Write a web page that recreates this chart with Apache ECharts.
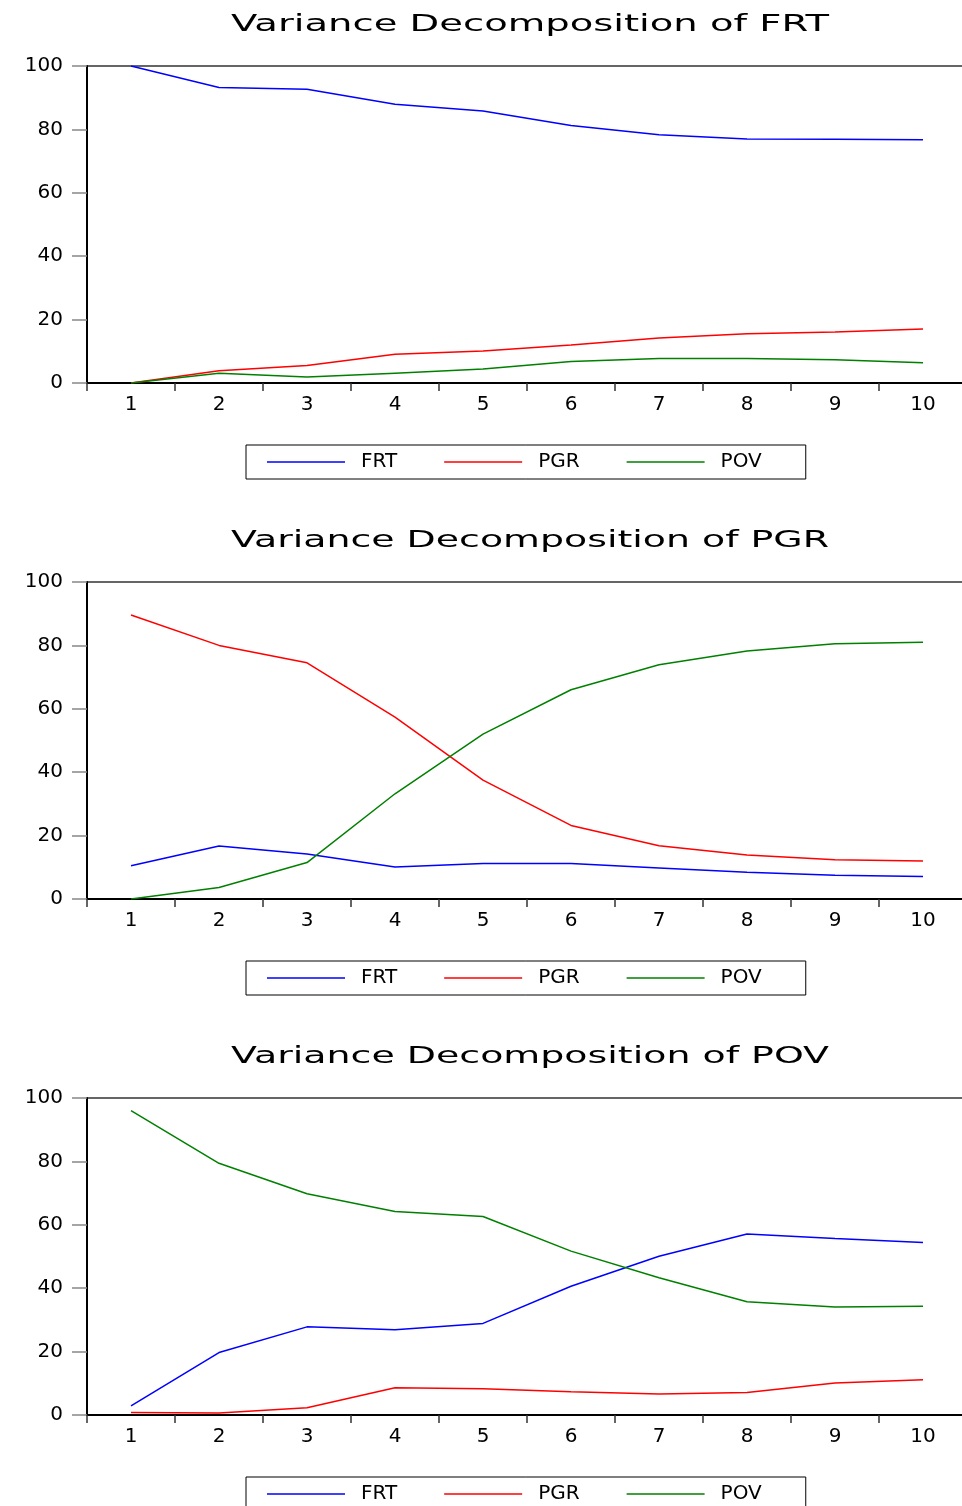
<!DOCTYPE html>
<html>
<head>
<meta charset="utf-8">
<script src="https://cdn.jsdelivr.net/npm/echarts@6/dist/echarts.min.js"></script>
<style>
  html, body { margin: 0; padding: 0; background: #ffffff; }
  #chart { width: 962px; height: 1506px; }
</style>
</head>
<body>
<div id="chart"></div>
<script>
// periods on the x axis
const periods = ['1', '2', '3', '4', '5', '6', '7', '8', '9', '10'];
const yTicks = [0, 20, 40, 60, 80, 100];
const seriesNames = ['FRT', 'PGR', 'POV'];
const panelTitles = [
  'Variance Decomposition of FRT',
  'Variance Decomposition of PGR',
  'Variance Decomposition of POV'
];

// Variance Decomposition of FRT
const frtByFRT = [100, 93.2, 92.7, 87.9, 85.8, 81.2, 78.3, 77.0, 76.9, 76.7];
const frtByPGR = [0, 3.9, 5.5, 9.1, 10.1, 12.0, 14.2, 15.5, 16.1, 17.0];
const frtByPOV = [0, 3.1, 1.9, 3.1, 4.4, 6.8, 7.7, 7.7, 7.3, 6.4];

// Variance Decomposition of PGR
const pgrByFRT = [10.5, 16.7, 14.2, 10.1, 11.2, 11.2, 9.8, 8.4, 7.5, 7.1];
const pgrByPGR = [89.6, 80.0, 74.5, 57.4, 37.5, 23.2, 16.8, 13.9, 12.4, 12.0];
const pgrByPOV = [0, 3.6, 11.5, 33.2, 52.0, 66.0, 73.9, 78.2, 80.5, 81.0];

// Variance Decomposition of POV
const povByFRT = [2.9, 19.7, 27.8, 26.9, 28.9, 40.6, 50.1, 57.1, 55.7, 54.4];
const povByPGR = [0.8, 0.6, 2.3, 8.6, 8.3, 7.3, 6.6, 7.1, 10.1, 11.1];
const povByPOV = [96.0, 79.4, 69.8, 64.2, 62.6, 51.7, 43.3, 35.7, 34.1, 34.3];

const panels = [
  [frtByFRT, frtByPGR, frtByPOV],
  [pgrByFRT, pgrByPGR, pgrByPOV],
  [povByFRT, povByPGR, povByPOV]
];
const colors = ['#0000ff', '#ff0000', '#008000'];

const FONT = "'DejaVu Sans', 'Liberation Sans', Arial, sans-serif";
const panelStep = 516;

// widen the title text the way the original output stretches it
function titleScale(text, font, target) {
  const ctx = document.createElement('canvas').getContext('2d');
  ctx.font = font;
  return target / ctx.measureText(text).width;
}

const chart = echarts.init(document.getElementById('chart'));

let grids = [], xAxes = [], yAxes = [], series = [], legends = [], graphics = [];
panels.forEach((data, p) => {
  const off = p * panelStep;
  grids.push({
    left: 87, width: 880, top: 66 + off, height: 317,
    outerBoundsMode: 'none', containLabel: false,
    show: true, borderColor: '#333', borderWidth: 1.5, backgroundColor: '#fff'
  });
  xAxes.push({
    type: 'category', gridIndex: p, data: periods, boundaryGap: true,
    axisLine: { lineStyle: { color: '#000', width: 2 } },
    axisTick: { show: true, length: 8, lineStyle: { color: '#333', width: 1.5 } },
    axisLabel: { color: '#000', fontFamily: FONT, fontSize: 20, margin: 12, interval: 0 },
    splitLine: { show: false }
  });
  yAxes.push({
    type: 'value', gridIndex: p,
    min: yTicks[0], max: yTicks[yTicks.length - 1], interval: yTicks[1] - yTicks[0],
    axisLine: { show: true, lineStyle: { color: '#000', width: 2 } },
    axisTick: { show: true, length: 15, lineStyle: { color: '#888', width: 1.5 } },
    axisLabel: { color: '#000', fontFamily: FONT, fontSize: 20, margin: 24 },
    splitLine: { show: false }
  });
  data.forEach((vals, s) => {
    series.push({
      name: seriesNames[s], type: 'line', xAxisIndex: p, yAxisIndex: p,
      data: vals, symbol: 'none', smooth: false,
      lineStyle: { color: colors[s], width: 1.5 },
      itemStyle: { color: colors[s] }
    });
  });
  legends.push({
    data: seriesNames, left: 246, top: 445 + off, orient: 'horizontal',
    icon: 'rect', itemWidth: 78, itemHeight: 1.5, itemGap: 47,
    padding: [7, 44, 7, 21], borderColor: '#000', borderWidth: 1,
    selectedMode: false,
    textStyle: { color: '#000', fontFamily: FONT, fontSize: 20, padding: [0, 0, 0, 11] }
  });
  const tfont = '23px DejaVu Sans';
  graphics.push({
    type: 'text', x: 530, y: 25 + off,
    scaleX: titleScale(panelTitles[p], tfont, 598), scaleY: 1,
    style: {
      text: panelTitles[p], font: tfont, fill: '#000',
      align: 'center', verticalAlign: 'middle'
    }
  });
});

chart.setOption({
  animation: false,
  backgroundColor: '#ffffff',
  grid: grids,
  xAxis: xAxes,
  yAxis: yAxes,
  legend: legends,
  graphic: graphics,
  series: series
});
</script>
</body>
</html>
